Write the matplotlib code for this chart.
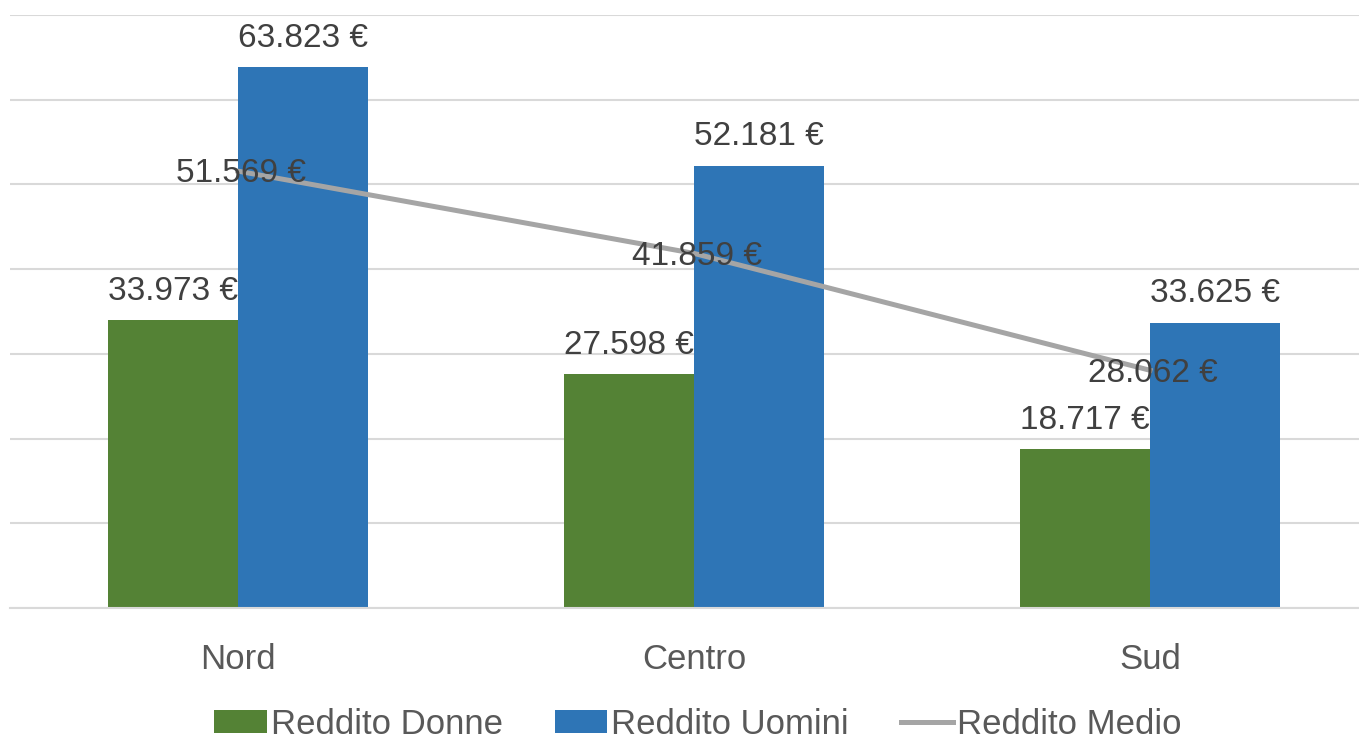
import numpy as np
import matplotlib
matplotlib.use("Agg")
import matplotlib.pyplot as plt

plt.rcParams['font.family'] = ['Liberation Sans Narrow', 'Liberation Sans', 'DejaVu Sans']

regioni = ['Nord', 'Centro', 'Sud']
reddito_donne = [33973, 27598, 18717]
reddito_uomini = [63823, 52181, 33625]
reddito_medio = [51569, 41859, 28062]


def euro(v):
    return f"{v:,.0f} €".replace(',', '.')


green = '#548235'
blue = '#2E75B6'
gray = '#A5A5A5'
txt = '#404040'

fig = plt.figure(figsize=(13.59, 7.39), dpi=100)
ax = fig.add_axes([10 / 1359, 131 / 739, 1368 / 1359, 593 / 739])

x = np.arange(len(regioni))
w = 0.285
b1 = ax.bar(x - w / 2, reddito_donne, w, color=green, label='Reddito Donne', zorder=2)
b2 = ax.bar(x + w / 2, reddito_uomini, w, color=blue, label='Reddito Uomini', zorder=2)
ln, = ax.plot(x, reddito_medio, color=gray, lw=3.6, label='Reddito Medio', zorder=3)

for bars, vals in [(b1, reddito_donne), (b2, reddito_uomini)]:
    for r, v in zip(bars, vals):
        ax.annotate(euro(v), (r.get_x() + r.get_width() / 2, v), xytext=(0, 21),
                    textcoords='offset points', ha='center', va='center',
                    fontsize=24, color=txt, zorder=4)
for xi, v in zip(x, reddito_medio):
    ax.annotate(euro(v), (xi, v), xytext=(2, -2), textcoords='offset points',
                ha='center', va='center', fontsize=24, color=txt, zorder=4)

ax.set_xlim(-0.5, 2.5)
ax.set_ylim(0, 70000)
ax.set_yticks(np.arange(0, 70001, 10000))
ax.yaxis.grid(True, color='#D9D9D9', lw=1.5, zorder=0)
ax.set_axisbelow(True)
ax.tick_params(axis='y', left=False, labelleft=False)
ax.tick_params(axis='x', length=0, pad=25, labelsize=25, labelcolor='#595959')
ax.set_xticks(x)
ax.set_xticklabels(regioni)
for s in ['top', 'right', 'left']:
    ax.spines[s].set_visible(False)
ax.spines['bottom'].set_color('#D9D9D9')
ax.spines['bottom'].set_linewidth(1.5)

fig.legend(handles=[b1, b2, ln], loc='center', bbox_to_anchor=(698 / 1359, 15 / 739),
           ncol=3, frameon=False, fontsize=25, labelcolor='#595959',
           handlelength=1.5, handleheight=0.66, handletextpad=0.12, columnspacing=1.5)

fig.savefig('out.png', dpi=100)
